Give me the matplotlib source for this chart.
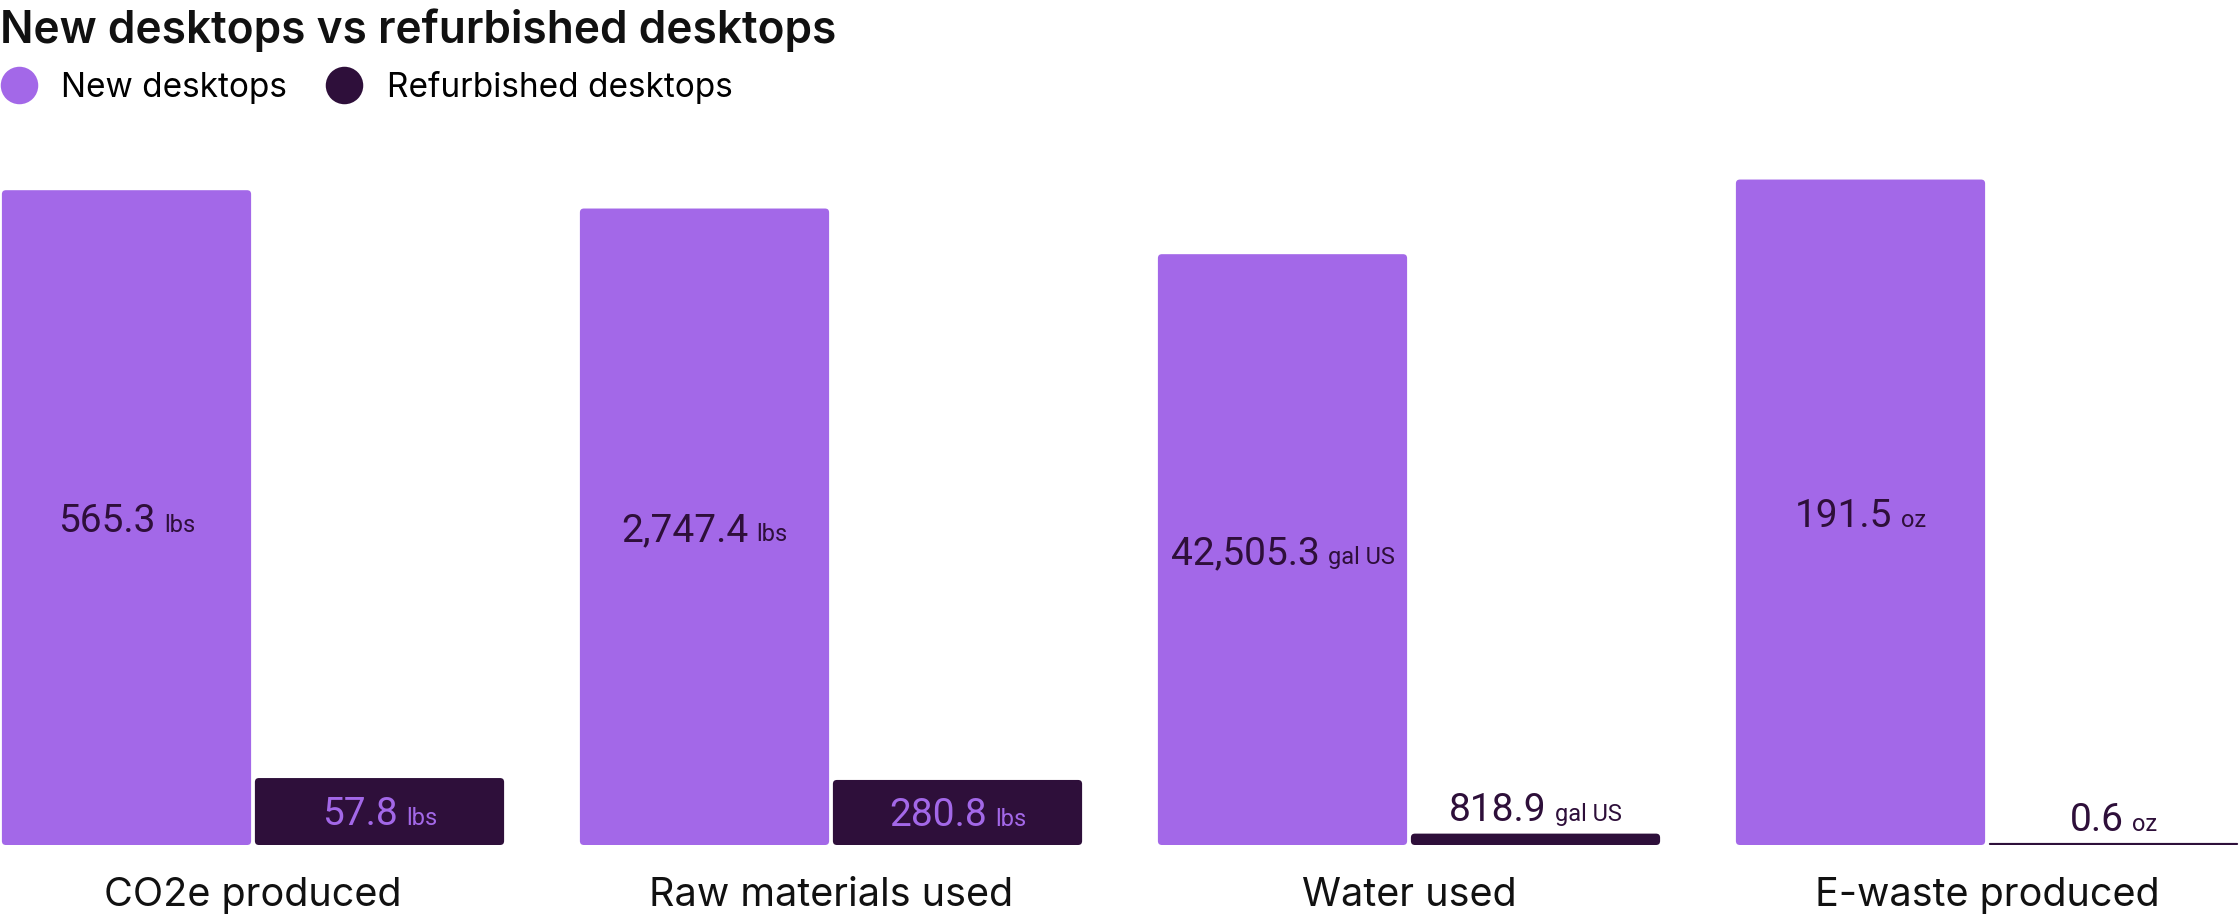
import matplotlib
matplotlib.use("Agg")
import matplotlib.pyplot as plt
from matplotlib.patches import FancyBboxPatch
from matplotlib.lines import Line2D
from matplotlib.offsetbox import TextArea, HPacker, AnnotationBbox

# data
categories = ["CO2e produced", "Raw materials used", "Water used", "E-waste produced"]
new_values = [565.3, 2747.4, 42505.3, 191.5]
refurb_values = [57.8, 280.8, 818.9, 0.6]
units = ["lbs", "lbs", "gal US", "oz"]
axis_max = [600, 3000, 50000, 200]
series = ["New desktops", "Refurbished desktops"]

PURPLE = "#A368E8"
DARK = "#2E0F3A"
TXT = "#111111"

W, H = 2240, 916
fig = plt.figure(figsize=(W / 100, H / 100), dpi=100)

fig.text(0, 1 - 43 / H, "New desktops vs refurbished desktops", fontsize=31.8,
         fontweight="semibold", family="Inter", color=TXT, va="baseline", ha="left")

handles = [Line2D([], [], ls="none", marker="o", markersize=27, color=c, mew=0)
           for c in (PURPLE, DARK)]
fig.legend(handles, series, loc="center left", bbox_to_anchor=(0, 1 - 87 / H),
           ncol=2, frameon=False, prop={"family": "Inter", "size": 24},
           handlelength=1.12, handletextpad=0.72, columnspacing=1.15,
           borderpad=0, borderaxespad=0)


def fmt(v):
    return f"{v:,.1f}"


def value_label(ax, x, y, val, unit, color, above):
    num = TextArea(fmt(val), textprops=dict(fontsize=28, color=color, family="Roboto"))
    un = TextArea(unit, textprops=dict(fontsize=17, color=color, family="Roboto"))
    box = HPacker(children=[num, un], align="baseline", pad=0, sep=6)
    if above:
        ab = AnnotationBbox(box, (x, y), xycoords="data", xybox=(0, 3),
                            boxcoords="offset points", box_alignment=(0.5, 0),
                            frameon=False, pad=0)
    else:
        ab = AnnotationBbox(box, (x, y), xycoords="data", box_alignment=(0.5, 0.5),
                            frameon=False, pad=0)
    ax.add_artist(ab)


for i, cat in enumerate(categories):
    ax = fig.add_axes([i * 578 / W, 71 / H, 506 / W, 695 / H])
    ax.set_xlim(-0.5, 1.5)
    ax.set_ylim(0, axis_max[i])
    ax.axis("off")
    bars = ax.bar([0, 1], [new_values[i], refurb_values[i]], width=0.985,
                  color=[PURPLE, DARK])
    px_x = 506 / 2.0          # px per x unit
    px_y = 695 / axis_max[i]  # px per y unit
    for b in bars:
        b.set_visible(False)
        h_px = b.get_height() * px_y
        r_px = min(4, h_px / 2)
        p = FancyBboxPatch((b.get_x(), 0), b.get_width(), b.get_height(),
                           boxstyle=f"round,pad=0,rounding_size={r_px / px_x}",
                           mutation_aspect=px_x / px_y, fc=b.get_facecolor(),
                           ec="none")
        ax.add_patch(p)

    # labels
    value_label(ax, 0, new_values[i] / 2 - 4 / px_y, new_values[i], units[i], DARK, False)
    if refurb_values[i] * px_y > 40:
        value_label(ax, 1, refurb_values[i] / 2 - 3 / px_y, refurb_values[i], units[i],
                    PURPLE, False)
    else:
        value_label(ax, 1, refurb_values[i], refurb_values[i], units[i], DARK, True)

    fig.text((i * 578 + 253) / W, 1 - 906 / H, cat, fontsize=28.5, family="Inter",
             color=TXT, ha="center", va="baseline")

fig.savefig("out.png", dpi=100)
